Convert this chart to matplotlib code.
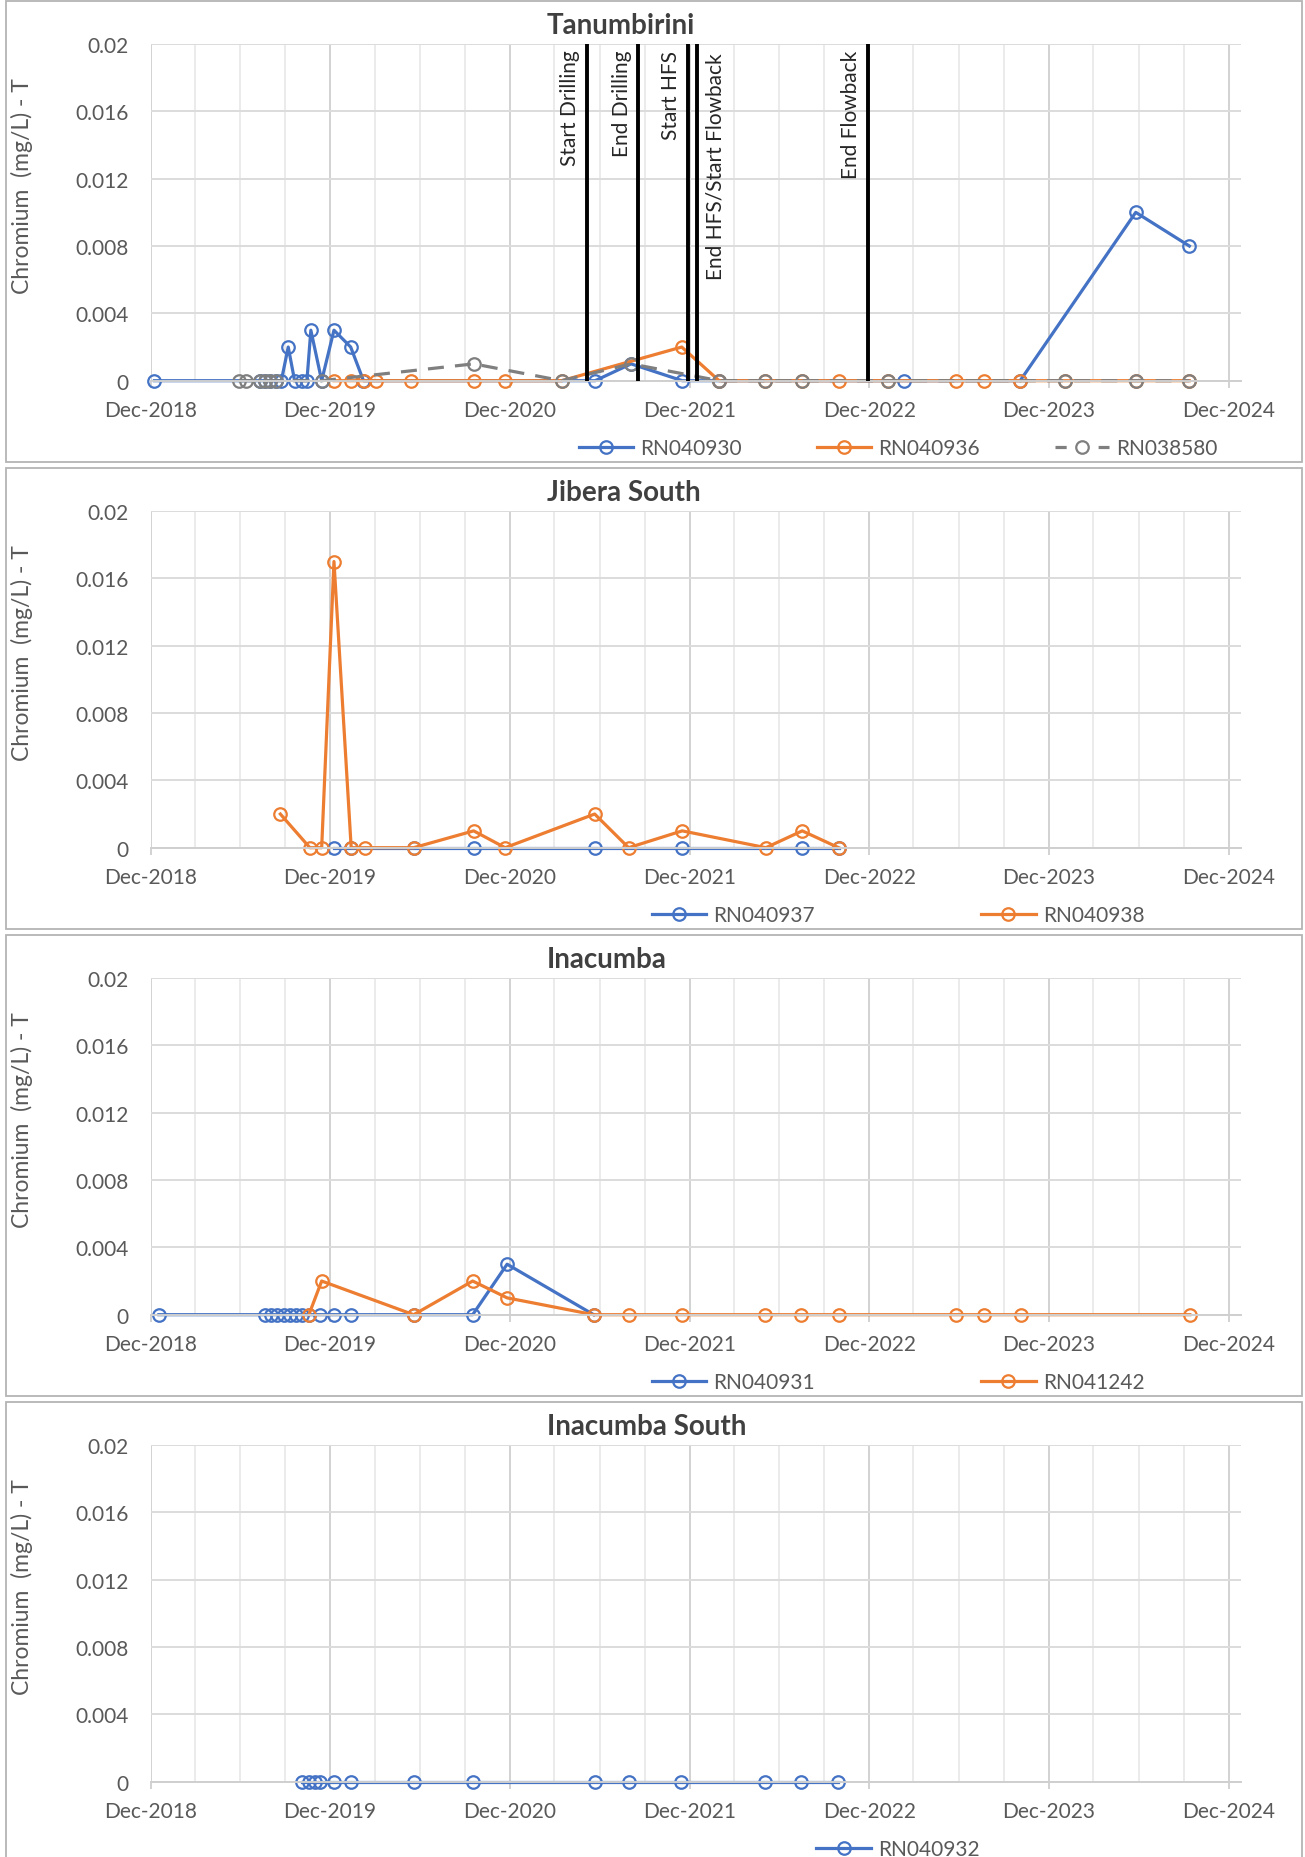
import matplotlib
matplotlib.use('Agg')
from matplotlib import pyplot
import matplotlib.dates as mdates
from matplotlib.patches import Rectangle
import numpy

pyplot.rcParams['font.family'] = ['Lato', 'DejaVu Sans']

# ---- Tanumbirini
tan_930_dates = ['2018-12-09', '2019-07-11', '2019-07-21', '2019-08-01', '2019-08-13', '2019-08-24',
                 '2019-09-07', '2019-09-20', '2019-10-04', '2019-10-15', '2019-10-23', '2019-11-14',
                 '2019-12-09', '2020-01-12', '2020-02-07', '2021-05-23', '2021-08-04', '2021-11-16',
                 '2022-01-30', '2023-02-09', '2023-10-04', '2024-05-26', '2024-09-12']
tan_930_vals = [0, 0, 0, 0, 0, 0,
                0.002, 0, 0, 0, 0.003, 0,
                0.003, 0.002, 0, 0, 0.001, 0,
                0, 0, 0, 0.01, 0.008]
tan_936_dates = ['2019-12-09', '2020-01-13', '2020-02-09', '2020-03-04', '2020-05-13', '2020-09-18',
                 '2020-11-21', '2021-03-16', '2021-11-15', '2022-01-30', '2022-05-04', '2022-07-17',
                 '2022-09-30', '2023-01-09', '2023-05-26', '2023-07-23', '2023-10-04', '2024-01-04',
                 '2024-05-26', '2024-09-12']
tan_936_vals = [0, 0, 0, 0, 0, 0,
                0, 0, 0.002, 0, 0, 0,
                0, 0, 0, 0, 0, 0,
                0, 0]
tan_580_dates = ['2019-05-29', '2019-06-13', '2019-07-11', '2019-07-21', '2019-08-01', '2019-08-13',
                 '2019-11-14', '2020-09-18', '2021-03-16', '2021-08-04', '2022-01-30', '2022-05-04',
                 '2022-07-17', '2023-01-09', '2024-01-04', '2024-05-26', '2024-09-12']
tan_580_vals = [0, 0, 0, 0, 0, 0,
                0, 0.001, 0, 0.001, 0, 0,
                0, 0, 0, 0, 0]
event_dates = ['2021-05-07', '2021-08-19', '2021-11-28', '2021-12-16', '2022-11-28']
event_labels = ['Start Drilling', 'End Drilling', 'Start HFS', 'End HFS/Start Flowback', 'End Flowback']

# ---- Jibera South
jib_937_dates = ['2019-12-09', '2020-01-13', '2020-05-19', '2020-09-18', '2021-05-22', '2021-11-16',
                 '2022-07-18', '2022-09-30']
jib_937_vals = [0, 0, 0, 0, 0, 0, 0, 0]
jib_938_dates = ['2019-08-22', '2019-10-21', '2019-11-14', '2019-12-09', '2020-01-13', '2020-02-10',
                 '2020-05-19', '2020-09-18', '2020-11-21', '2021-05-22', '2021-07-30', '2021-11-16',
                 '2022-05-05', '2022-07-18', '2022-09-30']
jib_938_vals = [0.002, 0, 0, 0.017, 0, 0,
                0, 0.001, 0, 0.002, 0, 0.001,
                0, 0.001, 0]

# ---- Inacumba
ina_931_dates = ['2018-12-18', '2019-07-21', '2019-08-03', '2019-08-16', '2019-08-29', '2019-09-10',
                 '2019-09-23', '2019-10-06', '2019-10-19', '2019-11-11', '2019-12-09', '2020-01-13',
                 '2020-05-19', '2020-09-16', '2020-11-25', '2021-05-20']
ina_931_vals = [0, 0, 0, 0, 0, 0,
                0, 0, 0, 0, 0, 0,
                0, 0, 0.003, 0]
ina_242_dates = ['2019-10-19', '2019-11-14', '2020-05-19', '2020-09-16', '2020-11-25', '2021-05-20',
                 '2021-07-30', '2021-11-15', '2022-05-03', '2022-07-16', '2022-09-30', '2023-05-27',
                 '2023-07-22', '2023-10-05', '2024-09-13']
ina_242_vals = [0, 0.002, 0, 0.002, 0.001, 0,
                0, 0, 0, 0, 0, 0,
                0, 0, 0]

# ---- Inacumba South
ins_932_dates = ['2019-10-04', '2019-10-19', '2019-10-31', '2019-11-11', '2019-12-09', '2020-01-13',
                 '2020-05-19', '2020-09-16', '2021-05-22', '2021-07-30', '2021-11-14', '2022-05-03',
                 '2022-07-16', '2022-09-29']
ins_932_vals = [0, 0, 0, 0, 0, 0, 0, 0, 0, 0, 0, 0, 0, 0]

yticks = [0, 0.004, 0.008, 0.012, 0.016, 0.02]
ytick_labels = ['0', '0.004', '0.008', '0.012', '0.016', '0.02']

BLUE = '#4472C4'
ORANGE = '#ED7D31'
GRAY = '#7F7F7F'

W, H = 1305, 1858
fig = pyplot.figure(figsize=(W / 100, H / 100), dpi=100)

panels = [
    ('Tanumbirini', [(tan_930_dates, tan_930_vals, BLUE, '-', 'RN040930'),
                     (tan_936_dates, tan_936_vals, ORANGE, '-', 'RN040936'),
                     (tan_580_dates, tan_580_vals, GRAY, '--', 'RN038580')], 3.6),
    ('Jibera South', [(jib_937_dates, jib_937_vals, BLUE, '-', 'RN040937'),
                      (jib_938_dates, jib_938_vals, ORANGE, '-', 'RN040938')], 8.0),
    ('Inacumba', [(ina_931_dates, ina_931_vals, BLUE, '-', 'RN040931'),
                  (ina_242_dates, ina_242_vals, ORANGE, '-', 'RN041242')], 8.0),
    ('Inacumba South', [(ins_932_dates, ins_932_vals, BLUE, '-', 'RN040932')], 2.0),
]

step = 467
for i, (title, series, colspace) in enumerate(panels):
    top = 45 + step * i
    bottom = 381.7 + step * i

    # panel frame
    fig.add_artist(Rectangle((6 / W, 1 - (463 + step * i) / H), 1296 / W, 461 / H,
                             transform=fig.transFigure, fill=False, edgecolor='#B4B4B4', lw=1.3))

    ax = fig.add_axes([150.5 / W, 1 - bottom / H, (1241 - 150.5) / W, (bottom - top) / H])
    ax.set_xlim(numpy.datetime64('2018-12-01'), numpy.datetime64('2024-12-26'))
    ax.set_ylim(0, 0.02)

    ax.xaxis.set_major_locator(mdates.MonthLocator(bymonth=[12], bymonthday=1))
    ax.xaxis.set_minor_locator(mdates.MonthLocator(bymonth=[3, 6, 9], bymonthday=1))
    ax.xaxis.set_major_formatter(mdates.DateFormatter('%b-%Y'))
    ax.set_yticks(yticks)
    ax.set_yticklabels(ytick_labels)

    ax.grid(which='major', axis='x', color='#D2D2D2', lw=1.4)
    ax.grid(which='minor', axis='x', color='#E6E6E6', lw=1.1)
    ax.grid(which='major', axis='y', color='#DCDCDC', lw=1.4)
    ax.set_axisbelow(True)
    for s in ['top', 'right', 'left']:
        ax.spines[s].set_visible(False)
    ax.spines['bottom'].set_color('#CFCFCF')
    ax.spines['bottom'].set_linewidth(1.4)
    ax.tick_params(axis='x', which='major', direction='out', length=5, width=1.3,
                   color='#CFCFCF', pad=9, labelsize=15, labelcolor='#595959')
    ax.tick_params(axis='x', which='minor', length=0)
    ax.tick_params(axis='y', length=0, pad=16, labelsize=15, labelcolor='#595959')

    ax.set_ylabel('Chromium  (mg/L) - T', fontsize=16.5, color='#595959')
    ax.yaxis.set_label_coords(-0.108, 0.58)

    fig.text(547 / W, 1 - (26 + step * i) / H, title, ha='left', va='center',
             fontsize=20, fontweight='bold', color='#404040')

    handles = []
    for dates, vals, color, ls, label in series:
        line, = ax.plot(numpy.array(dates, dtype='datetime64[D]'), vals, color=color, lw=2.3,
                        linestyle=ls, marker='o', markersize=9, markerfacecolor='none',
                        markeredgecolor=color, markeredgewidth=1.6, label=label, clip_on=False)
        if ls == '--':
            line.set_dashes((5, 3.5))
        handles.append(line)

    if i == 0:
        for ed, el in zip(event_dates, event_labels):
            x = numpy.datetime64(ed)
            ax.axvline(x, color='black', lw=2.8, zorder=5)
            if el.startswith('End HFS'):
                ax.annotate(el, xy=(x, 0.02), xytext=(6, -6), textcoords='offset points',
                            rotation=90, ha='left', va='top', fontsize=15, color='#262626')
            else:
                ax.annotate(el, xy=(x, 0.02), xytext=(-5, -4), textcoords='offset points',
                            rotation=90, ha='right', va='top', fontsize=15, color='#262626')

    leg = ax.legend(handles=handles, loc='center', bbox_to_anchor=(898 / W, 1 - (449 + step * i) / H),
                    bbox_transform=fig.transFigure, ncol=len(handles), frameon=False, fontsize=15,
                    labelcolor='#595959', handlelength=2.6, handletextpad=0.35, columnspacing=colspace)
    for lh in leg.get_lines():
        if lh.get_linestyle() == '--':
            lh.set_dashes((3.5, 10))

fig.savefig('out.png', dpi=100)
